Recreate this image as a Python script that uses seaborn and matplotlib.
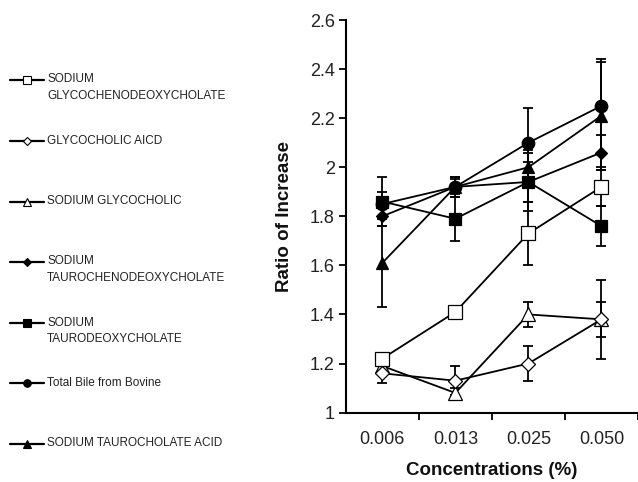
import matplotlib
matplotlib.use("Agg")
import matplotlib.pyplot as plt
import numpy as np
import pandas as pd
import seaborn as sns

# categories on the x axis
concentrations = ["0.006", "0.013", "0.025", "0.050"]

# series (legend order)
names = [
    "SODIUM\nGLYCOCHENODEOXYCHOLATE",
    "GLYCOCHOLIC AICD",
    "SODIUM GLYCOCHOLIC",
    "SODIUM\nTAUROCHENODEOXYCHOLATE",
    "SODIUM\nTAURODEOXYCHOLATE",
    "Total Bile from Bovine",
    "SODIUM TAUROCHOLATE ACID",
]
gcdc = [1.22, 1.41, 1.73, 1.92]
gcdc_err = [0.02, 0.01, 0.13, 0.08]
gca = [1.16, 1.13, 1.20, 1.38]
gca_err = [0.04, 0.06, 0.07, 0.16]
sgc = [1.19, 1.08, 1.40, 1.38]
sgc_err = [0.03, 0.02, 0.05, 0.07]
tcdc = [1.80, 1.92, 1.94, 2.06]
tcdc_err = [0.04, 0.03, 0.08, 0.07]
tdc = [1.86, 1.79, 1.94, 1.76]
tdc_err = [0.10, 0.09, 0.12, 0.08]
bile = [1.85, 1.92, 2.10, 2.25]
bile_err = [0.05, 0.04, 0.14, 0.19]
tca = [1.61, 1.92, 2.00, 2.21]
tca_err = [0.18, 0.04, 0.07, 0.22]

values = [gcdc, gca, sgc, tcdc, tdc, bile, tca]
errors = [gcdc_err, gca_err, sgc_err, tcdc_err, tdc_err, bile_err, tca_err]

# marker style per series
markers = ["s", "D", "^", "D", "s", "o", "^"]
faces = ["white", "white", "white", "black", "black", "black", "black"]
msizes = [9.5, 7, 9.5, 6.5, 8.5, 9, 8.5]

sns.set_theme(style="ticks")
plt.rcParams["font.family"] = ["Liberation Sans", "DejaVu Sans"]

fig = plt.figure(figsize=(6.38, 4.82), dpi=100)
ax = fig.add_axes([0.542, 0.144, 0.458, 0.8145])

x_idx = np.arange(len(concentrations))
# draw in reverse so the first legend entries sit on top
for i in range(len(names) - 1, -1, -1):
    df = pd.DataFrame({"x": x_idx, "y": values[i]})
    ax.errorbar(df["x"], df["y"], yerr=errors[i], fmt="none", ecolor="black",
                elinewidth=1.3, capsize=3.5, capthick=1.3, zorder=2)
    sns.lineplot(data=df, x="x", y="y", ax=ax, color="black", linewidth=1.3,
                 marker=markers[i], markersize=msizes[i], markerfacecolor=faces[i],
                 markeredgecolor="black", markeredgewidth=0.9, zorder=3 + (7 - i) * 0.01)

ax.set_xlim(-0.5, 3.5)
ax.set_ylim(1, 2.6)
yt = np.arange(1, 2.61, 0.2).round(1)
ax.set_yticks(yt)
ax.set_yticklabels([f"{v:g}" for v in yt])
ax.set_xticks(x_idx)
ax.set_xticklabels(concentrations)
ax.set_xticks(np.arange(0.5, 4, 1), minor=True)
ax.tick_params(axis="x", which="major", length=0, pad=13, labelsize=13, colors="#222222")
ax.tick_params(axis="x", which="minor", length=5, width=1.3, direction="out", color="black")
ax.tick_params(axis="y", length=5, width=1.3, direction="out", labelsize=13,
               colors="#222222", color="black", pad=3)
for side in ["left", "bottom"]:
    ax.spines[side].set_linewidth(1.5)
    ax.spines[side].set_color("black")
sns.despine(ax=ax)
ax.set_xlabel("Concentrations (%)", fontsize=13.5, fontweight="bold", labelpad=10,
              color="#111111")
ax.set_ylabel("Ratio of Increase", fontsize=13.5, fontweight="bold", labelpad=12,
              color="#111111")

# hand-made legend on the left
leg = fig.add_axes([0, 0, 0.54, 1])
leg.set_xlim(0, 344)
leg.set_ylim(482, 0)
leg.axis("off")
entry_y = [80, 141, 202, 262, 323, 383, 444]
for i, name in enumerate(names):
    y = entry_y[i]
    leg.plot([10, 27, 44], [y, y, y], color="black", linewidth=1.6,
             marker=markers[i], markevery=[1], markersize=msizes[i] * 0.6,
             markerfacecolor=faces[i], markeredgecolor="black", markeredgewidth=0.8)
    leg.text(47, y - 6.5, name, fontsize=8.5, va="top", ha="left", color="#222222",
             linespacing=1.55)

fig.savefig("out.png", dpi=100)
